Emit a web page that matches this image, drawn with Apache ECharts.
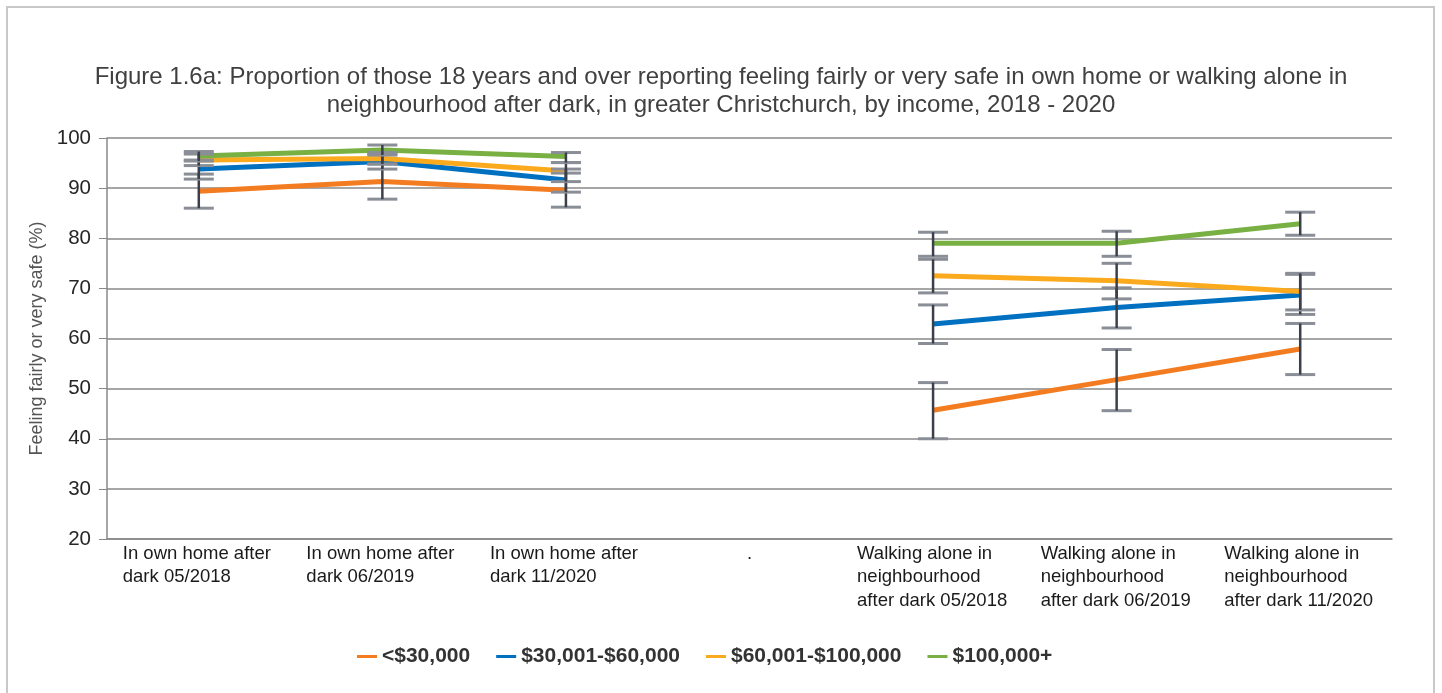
<!DOCTYPE html>
<html>
<head>
<meta charset="utf-8">
<script src="https://cdn.jsdelivr.net/npm/echarts@6/dist/echarts.min.js"></script>
<style>
  html, body { margin: 0; padding: 0; background: #fff; }
  #main { width: 1442px; height: 693px; }
</style>
</head>
<body>
<div id="main"></div>
<script>
// categories along the x axis ('.' is the empty spacer column)
var categories = [
    'In own home after\ndark 05/2018',
    'In own home after\ndark 06/2019',
    'In own home after\ndark 11/2020',
    '.',
    'Walking alone in\nneighbourhood\nafter dark 05/2018',
    'Walking alone in\nneighbourhood\nafter dark 06/2019',
    'Walking alone in\nneighbourhood\nafter dark 11/2020'
];

var seriesNames = ['<$30,000', '$30,001-$60,000', '$60,001-$100,000', '$100,000+'];
var seriesColors = ['#f47c20', '#0070c0', '#fbaa1e', '#78b043'];

// point estimates (%)
var under30k   = [89.4, 91.3, 89.6, null, 45.7, 51.8, 57.9];
var from30k    = [93.8, 95.3, 91.6, null, 62.9, 66.2, 68.7];
var from60k    = [95.6, 95.9, 93.4, null, 72.5, 71.5, 69.4];
var over100k   = [96.4, 97.6, 96.3, null, 79.0, 79.0, 82.9];

// confidence intervals, low / high
var under30kLow  = [86.0, 87.8, 86.2, null, 40.0, 45.6, 52.8];
var under30kHigh = [92.8, 94.8, 93.0, null, 51.2, 57.8, 63.0];
var from30kLow   = [91.8, 93.8, 89.2, null, 59.0, 62.1, 64.8];
var from30kHigh  = [95.6, 96.8, 93.8, null, 66.7, 70.1, 72.8];
var from60kLow   = [94.5, 94.8, 91.3, null, 69.1, 67.9, 65.7];
var from60kHigh  = [96.8, 97.1, 95.1, null, 75.8, 75.0, 73.0];
var over100kLow  = [95.4, 96.6, 95.1, null, 76.4, 76.4, 80.6];
var over100kHigh = [97.3, 98.6, 97.1, null, 81.2, 81.4, 85.2];

var yTicks = [20, 30, 40, 50, 60, 70, 80, 90, 100];

var values = [under30k, from30k, from60k, over100k];
var lows = [under30kLow, from30kLow, from60kLow, over100kLow];
var highs = [under30kHigh, from30kHigh, from60kHigh, over100kHigh];

var FONT = '"Liberation Sans", Arial, sans-serif';

function errData(lo, hi) {
    var out = [];
    for (var i = 0; i < lo.length; i++) {
        if (lo[i] != null) out.push([i, lo[i], hi[i]]);
    }
    return out;
}

function renderErr(params, api) {
    var x = api.value(0);
    var lo = api.coord([x, api.value(1)]);
    var hi = api.coord([x, api.value(2)]);
    var w = 15;
    return {
        type: 'group',
        children: [
            { type: 'line', shape: { x1: lo[0] - w, y1: lo[1], x2: lo[0] + w, y2: lo[1] }, style: { stroke: '#8a8e96', lineWidth: 3 } },
            { type: 'line', shape: { x1: hi[0] - w, y1: hi[1], x2: hi[0] + w, y2: hi[1] }, style: { stroke: '#8a8e96', lineWidth: 3 } },
            { type: 'line', shape: { x1: lo[0], y1: lo[1], x2: hi[0], y2: hi[1] }, style: { stroke: '#3a3f4a', lineWidth: 2.5 } }
        ]
    };
}

var series = [];
seriesNames.forEach(function (name, k) {
    series.push({
        name: name,
        type: 'line',
        data: values[k],
        connectNulls: false,
        symbol: 'none',
        lineStyle: { width: 5, color: seriesColors[k] },
        itemStyle: { color: seriesColors[k] },
        z: 2
    });
});
seriesNames.forEach(function (name, k) {
    series.push({
        name: 'err ' + name,
        type: 'custom',
        renderItem: renderErr,
        encode: { x: 0, y: [1, 2] },
        data: errData(lows[k], highs[k]),
        z: 5,
        silent: true
    });
});

var option = {
    backgroundColor: '#fff',
    animation: false,
    textStyle: { fontFamily: FONT },
    title: {
        text: 'Figure 1.6a: Proportion of those 18 years and over reporting feeling fairly or very safe in own home or walking alone in\nneighbourhood after dark, in greater Christchurch, by income, 2018 - 2020',
        left: 'center',
        top: 58,
        textStyle: { fontFamily: FONT, fontSize: 24, fontWeight: 'normal', color: '#404040', lineHeight: 28 }
    },
    legend: {
        data: seriesNames,
        left: 352,
        top: 641,
        icon: 'rect',
        itemWidth: 20,
        itemHeight: 3,
        itemGap: 26,
        textStyle: { fontFamily: FONT, fontSize: 21, fontWeight: 'bold', color: '#333' }
    },
    grid: { left: 107, right: 50, top: 138, bottom: 154 },
    xAxis: {
        type: 'category',
        data: categories,
        boundaryGap: true,
        axisLine: { lineStyle: { color: '#888', width: 1.5 } },
        axisTick: { alignWithLabel: true, length: 5, lineStyle: { color: '#888' } },
        axisLabel: {
            interval: 0,
            margin: 3,
            color: '#1a1a1a',
            fontSize: 18.5,
            lineHeight: 23.5,
            formatter: function (v) { return v === '.' ? '{d|.}' : '{a|' + v + '}'; },
            rich: {
                a: { width: 152, align: 'left', fontSize: 18.5, lineHeight: 23.5, color: '#1a1a1a', fontFamily: FONT },
                d: { fontSize: 18.5, lineHeight: 23.5, color: '#1a1a1a', fontFamily: FONT }
            }
        }
    },
    yAxis: {
        type: 'value',
        min: yTicks[0],
        max: yTicks[yTicks.length - 1],
        interval: 10,
        name: 'Feeling fairly or very safe (%)',
        nameLocation: 'middle',
        nameGap: 54,
        nameTextStyle: { fontFamily: FONT, fontSize: 18, color: '#555' },
        axisLine: { show: true, lineStyle: { color: '#888', width: 1.5 } },
        axisTick: { show: true, length: 8, lineStyle: { color: '#888' } },
        axisLabel: { margin: 16, fontSize: 20.5, color: '#262626', fontFamily: FONT },
        splitLine: { lineStyle: { color: '#888', width: 1.5 } }
    },
    graphic: [{
        type: 'polyline',
        shape: { points: [[7, 693], [7, 7], [1434, 7], [1434, 693]] },
        style: { stroke: '#c8c8c8', lineWidth: 2, fill: null },
        silent: true
    }],
    series: series
};

var myChart = echarts.init(document.getElementById('main'));
myChart.setOption(option);
</script>
</body>
</html>
